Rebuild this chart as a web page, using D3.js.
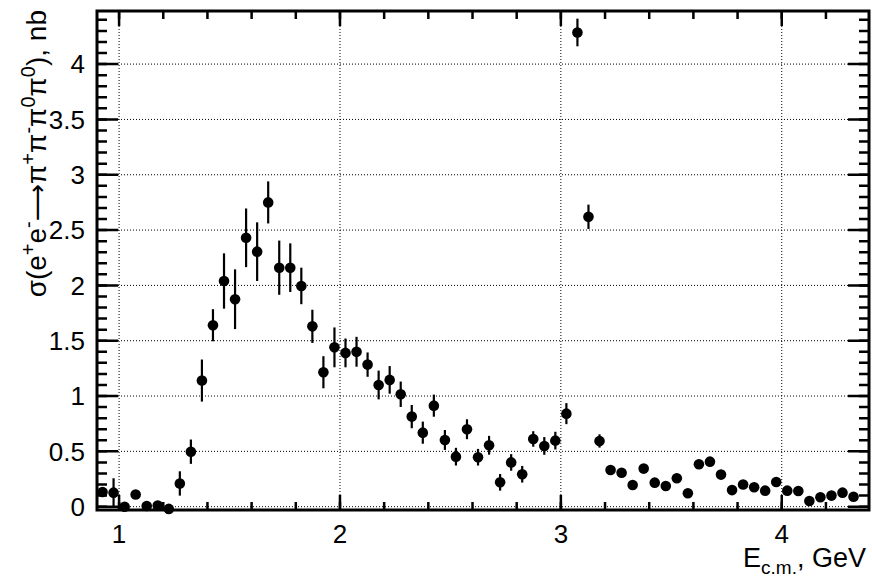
<!DOCTYPE html>
<html>
<head>
<meta charset="utf-8">
<style>
body { margin: 0; background: white; }
svg text { font-family: "Liberation Sans", Arial, sans-serif; fill: black; }
</style>
</head>
<body>
<div id="plot"></div>
<script src="https://d3js.org/d3.v7.min.js"></script>
<script>
// beam energy points, GeV
var energy = [0.925, 0.975, 1.025, 1.075, 1.125, 1.175, 1.225, 1.275, 1.325, 1.375,
  1.425, 1.475, 1.525, 1.575, 1.625, 1.675, 1.725, 1.775, 1.825, 1.875,
  1.925, 1.975, 2.025, 2.075, 2.125, 2.175, 2.225, 2.275, 2.325, 2.375,
  2.425, 2.475, 2.525, 2.575, 2.625, 2.675, 2.725, 2.775, 2.825, 2.875,
  2.925, 2.975, 3.025, 3.075, 3.125, 3.175, 3.225, 3.275, 3.325, 3.375,
  3.425, 3.475, 3.525, 3.575, 3.625, 3.675, 3.725, 3.775, 3.825, 3.875,
  3.925, 3.975, 4.025, 4.075, 4.125, 4.175, 4.225, 4.275, 4.325];
// cross section, nb
var sigma = [0.133, 0.127, 0.0, 0.11, 0.006, 0.01, -0.02, 0.21, 0.497, 1.14,
  1.64, 2.04, 1.875, 2.43, 2.305, 2.75, 2.16, 2.16, 1.995, 1.63,
  1.215, 1.44, 1.39, 1.40, 1.284, 1.10, 1.146, 1.016, 0.814, 0.669,
  0.913, 0.603, 0.452, 0.70, 0.447, 0.555, 0.22, 0.40, 0.293, 0.612,
  0.549, 0.597, 0.841, 4.286, 2.62, 0.594, 0.332, 0.307, 0.196, 0.344,
  0.217, 0.187, 0.257, 0.121, 0.383, 0.407, 0.29, 0.15, 0.2, 0.175,
  0.145, 0.223, 0.145, 0.142, 0.052, 0.085, 0.1, 0.127, 0.09];
// errors, nb
var sigmaErr = [0.04, 0.13, 0.03, 0.03, 0.03, 0.03, 0.03, 0.11, 0.11, 0.19,
  0.145, 0.25, 0.27, 0.265, 0.265, 0.19, 0.245, 0.22, 0.165, 0.15,
  0.145, 0.18, 0.13, 0.135, 0.11, 0.13, 0.125, 0.115, 0.105, 0.10,
  0.10, 0.09, 0.08, 0.09, 0.075, 0.085, 0.075, 0.075, 0.075, 0.07,
  0.08, 0.08, 0.095, 0.125, 0.11, 0.06, 0.04, 0.04, 0.04, 0.04,
  0.04, 0.04, 0.04, 0.04, 0.04, 0.04, 0.04, 0.04, 0.04, 0.04,
  0.04, 0.04, 0.04, 0.04, 0.04, 0.04, 0.04, 0.04, 0.04];

var xMajor = [1, 2, 3, 4];
var yMajor = [0, 0.5, 1, 1.5, 2, 2.5, 3, 3.5, 4];

var W = 872, H = 579;
var fL = 97, fR = 869, fT = 11, fB = 510;

var svg = d3.select("#plot").append("svg")
  .attr("width", W).attr("height", H);

var x = d3.scaleLinear().domain([0.9, 4.395]).range([fL, fR]);
var y = d3.scaleLinear().domain([-0.03, 4.48]).range([fB, fT]);

var xMinor = d3.range(1.0, 4.4, 0.2).map(function(v){ return +v.toFixed(1); });
var yMinor = d3.range(0, 4.45, 0.1).map(function(v){ return +v.toFixed(1); });

// dotted grid at the major ticks
svg.append("g").selectAll("line").data(xMajor).enter().append("line")
  .attr("x1", function(d){ return x(d); }).attr("x2", function(d){ return x(d); })
  .attr("y1", fT).attr("y2", fB)
  .attr("stroke", "black").attr("stroke-width", 1).attr("stroke-dasharray", "1,2");
svg.append("g").selectAll("line").data(yMajor).enter().append("line")
  .attr("y1", function(d){ return y(d); }).attr("y2", function(d){ return y(d); })
  .attr("x1", fL).attr("x2", fR)
  .attr("stroke", "black").attr("stroke-width", 1).attr("stroke-dasharray", "1,2");

// data
var pts = energy.map(function(e, i){ return {e: e, s: sigma[i], err: sigmaErr[i]}; });

svg.append("g").selectAll("line")
  .data(pts).enter().append("line")
  .attr("x1", function(d){ return x(d.e); })
  .attr("x2", function(d){ return x(d.e); })
  .attr("y1", function(d){ return Math.min(y(d.s - d.err), fB); })
  .attr("y2", function(d){ return y(d.s + d.err); })
  .attr("stroke", "black").attr("stroke-width", 2.2);

svg.append("g").selectAll("circle")
  .data(pts).enter().append("circle")
  .attr("cx", function(d){ return x(d.e); })
  .attr("cy", function(d){ return y(d.s); })
  .attr("r", 5.3)
  .attr("fill", "black");

// ticks, pointing inward from all four sides, one path each
function tickPath(vals, len, horiz) {
  var p = d3.path();
  vals.forEach(function(v){
    if (horiz) {
      p.moveTo(x(v), fB); p.lineTo(x(v), fB - len);
      p.moveTo(x(v), fT); p.lineTo(x(v), fT + len);
    } else {
      p.moveTo(fL, y(v)); p.lineTo(fL + len, y(v));
      p.moveTo(fR, y(v)); p.lineTo(fR - len, y(v));
    }
  });
  svg.append("path").attr("d", p.toString())
    .attr("fill", "none").attr("stroke", "#000").attr("stroke-width", 2.5);
}
tickPath(xMinor, 8, true);
tickPath(xMajor, 15, true);
tickPath(yMinor, 10, false);
tickPath(yMajor, 21, false);

// frame
svg.append("rect")
  .attr("x", fL).attr("y", fT)
  .attr("width", fR - fL).attr("height", fB - fT)
  .attr("fill", "none").attr("stroke", "#000").attr("stroke-width", 3);

// tick labels
svg.append("g").selectAll("text").data(xMajor).enter().append("text")
  .attr("x", function(d){ return x(d); })
  .attr("y", 543)
  .attr("text-anchor", "middle")
  .style("font-size", "26px")
  .text(function(d){ return d; });
svg.append("g").selectAll("text").data(yMajor).enter().append("text")
  .attr("x", 85)
  .attr("y", function(d){ return y(d); })
  .attr("dy", "0.36em")
  .attr("text-anchor", "end")
  .style("font-size", "26px")
  .text(function(d){ return String(d); });

// axis titles
var xt = svg.append("text")
  .attr("x", 866).attr("y", 567)
  .attr("text-anchor", "end")
  .style("font-size", "27px");
xt.append("tspan").text("E");
xt.append("tspan").attr("dy", 7).style("font-size", "19px").text("c.m.");
xt.append("tspan").attr("dy", -7).text(", GeV");

var yt = svg.append("text")
  .attr("transform", "translate(46,10) rotate(-90)")
  .attr("text-anchor", "end")
  .style("font-size", "28px");
var parts = [["σ(e", 0], ["+", 1], ["e", 0], ["-", 1], ["\u27F6", 2], ["π", 0], ["+", 1], ["π", 0], ["-", 1],
  ["π", 0], ["0", 1], ["π", 0], ["0", 1], ["), nb", 0]];
var shifted = false;
parts.forEach(function(p){
  var t = yt.append("tspan").text(p[0]);
  if (p[1] === 1) { t.attr("dy", -11).style("font-size", "20px"); shifted = true; }
  else if (shifted) { t.attr("dy", 11); shifted = false; }
  if (p[1] === 2) t.style("font-family", "'DejaVu Sans'").style("font-size", "26px");
});
</script>
</body>
</html>
